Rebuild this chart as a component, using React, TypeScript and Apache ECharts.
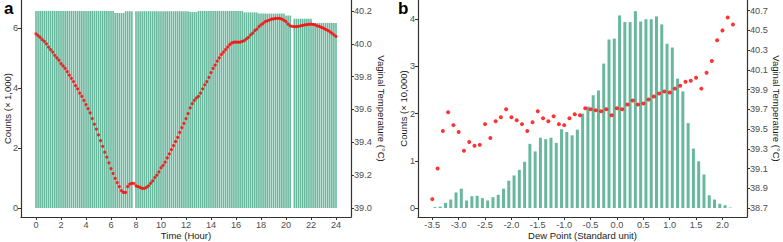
import React, { useEffect, useRef } from "react";
import * as echarts from "echarts";

// ---------- Panel a: 10-minute slots over 24 h ----------
// counts (x 1,000) per 10-min slot, null = missing slot
const countsA: (number | null)[] = [
  6.57, 6.57, 6.57, 6.57, 6.57, 6.57, 6.57, 6.57, 6.57, 6.57, 6.57, 6.57,
  6.57, 6.57, 6.57, 6.57, 6.57, 6.57, 6.57, 6.57, 6.57, 6.57, 6.57, 6.57,
  6.57, 6.57, 6.57, 6.57, 6.57, 6.57, 6.57, 6.57, 6.57, 6.57, 6.57, 6.57,
  6.57, 6.57, 6.5, 6.5, 6.5, 6.5, 6.5, 6.56, 6.56, 6.56, 6.56, null,
  6.56, 6.56, 6.56, 6.56, 6.56, 6.56, 6.56, 6.56, 6.56, 6.56, 6.56, 6.56,
  6.56, 6.56, 6.56, 6.56, 6.56, 6.56, 6.56, 6.56, 6.56, 6.56, 6.56, 6.56,
  6.56, 6.56, 6.53, 6.53, 6.53, 6.53, 6.57, 6.57, 6.57, 6.57, 6.57, 6.57,
  6.57, 6.57, 6.57, 6.57, 6.57, 6.57, 6.57, 6.57, 6.57, 6.57, 6.57, 6.57,
  6.57, 6.57, 6.57, 6.57, 6.52, 6.52, 6.52, 6.52, 6.52, 6.52, 6.52, 6.48,
  6.48, 6.48, 6.48, 6.48, 6.48, 6.48, 6.48, 6.48, 6.48, 6.48, 6.48, 6.48,
  6.42, 6.42, 6.42, null, 6.31, 6.31, 6.31, 6.31, 6.31, 6.31, 6.31, 6.31,
  6.31, 6.17, 6.17, 6.17, 6.17, 6.17, 6.17, 6.17, 6.17, 6.17, 6.17, 6.17,
  6.17,
];
// vaginal temperature (°C) per 10-min slot
const tempA: number[] = [
  40.06, 40.05, 40.04, 40.025, 40.015, 40.0, 39.98, 39.965, 39.95, 39.93, 39.915, 39.9,
  39.88, 39.865, 39.85, 39.83, 39.81, 39.79, 39.77, 39.745, 39.725, 39.7, 39.68, 39.655,
  39.63, 39.605, 39.58, 39.545, 39.51, 39.48, 39.445, 39.41, 39.375, 39.34, 39.31, 39.275,
  39.24, 39.21, 39.18, 39.155, 39.13, 39.105, 39.095, 39.095, 39.13, 39.145, 39.15, 39.15,
  39.135, 39.13, 39.125, 39.12, 39.12, 39.125, 39.135, 39.15, 39.165, 39.185, 39.2, 39.22,
  39.245, 39.26, 39.28, 39.305, 39.33, 39.355, 39.38, 39.405, 39.43, 39.46, 39.49, 39.515,
  39.545, 39.575, 39.61, 39.635, 39.655, 39.67, 39.68, 39.7, 39.725, 39.75, 39.77, 39.795,
  39.825, 39.85, 39.87, 39.895, 39.915, 39.935, 39.95, 39.965, 39.98, 39.995, 40.005, 40.01,
  40.01, 40.01, 40.01, 40.015, 40.02, 40.03, 40.04, 40.055, 40.065, 40.08, 40.09, 40.105,
  40.115, 40.125, 40.135, 40.14, 40.145, 40.15, 40.152, 40.155, 40.155, 40.155, 40.15, 40.145,
  40.135, 40.12, 40.11, 40.107, 40.105, 40.105, 40.107, 40.11, 40.112, 40.115, 40.117, 40.118,
  40.12, 40.118, 40.115, 40.11, 40.107, 40.1, 40.095, 40.088, 40.082, 40.075, 40.065, 40.055,
  40.045,
];
const hourTicks = [0, 2, 4, 6, 8, 10, 12, 14, 16, 18, 20, 22, 24];
const countATicks = [0, 2, 4, 6];
const tempATicks = [39.0, 39.2, 39.4, 39.6, 39.8, 40.0, 40.2];

// ---------- Panel b: dew point bins ----------
const dewBarX = [
  -3.45, -3.35, -3.25, -3.15, -3.05, -2.95, -2.85, -2.75, -2.65, -2.55, -2.45, -2.35,
  -2.25, -2.15, -2.05, -1.95, -1.85, -1.75, -1.65, -1.55, -1.45, -1.35, -1.25, -1.15,
  -1.05, -0.95, -0.85, -0.75, -0.65, -0.55, -0.45, -0.35, -0.25, -0.15, -0.05, 0.05,
  0.15, 0.25, 0.35, 0.45, 0.55, 0.65, 0.75, 0.85, 0.95, 1.05, 1.15, 1.25,
  1.35, 1.45, 1.55, 1.65, 1.75, 1.85, 1.95, 2.05, 2.15,
];
// counts (x 10,000)
const dewCounts = [
  0.02, 0.03, 0.11, 0.18, 0.33, 0.41, 0.16, 0.25, 0.26, 0.21, 0.16, 0.23,
  0.28, 0.41, 0.58, 0.69, 0.81, 0.98, 1.36, 1.2, 1.49, 1.46, 1.49, 1.38,
  1.67, 1.61, 1.54, 1.66, 2.0, 2.15, 2.39, 2.49, 3.06, 3.57, 3.59, 4.08,
  3.94, 3.94, 4.17, 3.95, 4.0, 4.0, 4.06, 3.89, 3.48, 3.4, 2.74, 2.47,
  1.8, 1.26, 0.99, 0.71, 0.27, 0.18, 0.09, 0.06, 0.01,
];
const dewPointX = [
  -3.5, -3.4, -3.3, -3.2, -3.1, -3.0, -2.9, -2.8, -2.7, -2.6, -2.5, -2.4,
  -2.3, -2.2, -2.1, -2.0, -1.9, -1.8, -1.7, -1.6, -1.5, -1.4, -1.3, -1.2,
  -1.1, -1.0, -0.9, -0.8, -0.7, -0.6, -0.5, -0.4, -0.3, -0.2, -0.1, 0.0,
  0.1, 0.2, 0.3, 0.4, 0.5, 0.6, 0.7, 0.8, 0.9, 1.0, 1.1, 1.2,
  1.3, 1.4, 1.5, 1.6, 1.7, 1.8, 1.9, 2.0, 2.1, 2.2,
];
const dewTemps = [
  38.79, 39.1, 39.48, 39.67, 39.54, 39.47, 39.28, 39.37, 39.33, 39.34, 39.55, 39.41,
  39.58, 39.62, 39.7, 39.62, 39.59, 39.55, 39.48, 39.57, 39.68, 39.61, 39.58, 39.63,
  39.55, 39.54, 39.61, 39.65, 39.64, 39.71, 39.7, 39.69, 39.68, 39.7, 39.64, 39.71,
  39.7, 39.75, 39.79, 39.75, 39.76, 39.8, 39.83, 39.86, 39.88, 39.87, 39.91, 39.94,
  39.98, 39.99, 40.02, 39.91, 40.07, 40.19, 40.4, 40.5, 40.63, 40.56,
];
const dewTicks = [-3.5, -3.0, -2.5, -2.0, -1.5, -1.0, -0.5, 0.0, 0.5, 1.0, 1.5, 2.0];
const countBTicks = [0, 1, 2, 3, 4];
const tempBTicks = [38.7, 38.9, 39.1, 39.3, 39.5, 39.7, 39.9, 40.1, 40.3, 40.5, 40.7];

const FONT = '"Liberation Sans", Arial, Helvetica, sans-serif';
const BAR = "#69b89e";
const DOT = "#ff0000";
const AXIS = "#333333";
const TICK_TXT = "#4d4d4d";
const TITLE_TXT = "#1a1a1a";

function axisCommon(ticks: number[], fmt?: (v: number) => string) {
  return {
    type: "value" as const,
    splitLine: { show: false },
    axisLine: { show: true, onZero: false, lineStyle: { color: AXIS, width: 1.2 } },
    axisTick: { show: true, length: 3, customValues: ticks, lineStyle: { color: AXIS, width: 1 } },
    axisLabel: {
      customValues: ticks,
      fontFamily: FONT,
      fontSize: 9.2,
      color: TICK_TXT,
      margin: 3,
      formatter: fmt ? (v: number) => fmt(v) : undefined,
    },
    nameLocation: "middle" as const,
    nameMoveOverlap: false,
    nameTextStyle: { fontFamily: FONT, fontSize: 9.5, lineHeight: 10, color: TITLE_TXT },
  };
}

export default function App() {
  const ref = useRef<HTMLDivElement>(null);
  useEffect(() => {
    if (!ref.current) return;
    const chart = echarts.init(ref.current, undefined, { renderer: "svg" });
    const slots = countsA.map((_, i) => i / 6);
    const barDataA = slots
      .map((h, i) => [h, countsA[i]])
      .filter((d) => d[1] !== null);
    const dotDataA = slots.map((h, i) => [h, tempA[i]]);
    const barDataB = dewBarX.map((x, i) => [x, dewCounts[i]]);
    const dotDataB = dewPointX.map((x, i) => [x, dewTemps[i]]);
    const f1 = (v: number) => v.toFixed(1);

    chart.setOption({
      animation: false,
      backgroundColor: "#ffffff",
      textStyle: { fontFamily: FONT },
      grid: [
        { left: 21, top: 0, width: 330, height: 217, containLabel: false, outerBoundsMode: "none" },
        { left: 418, top: 0, width: 329, height: 217, containLabel: false, outerBoundsMode: "none" },
      ],
      xAxis: [
        {
          ...axisCommon(hourTicks),
          gridIndex: 0,
          min: -1.2,
          max: 25.2,
          name: "Time (Hour)",
          nameGap: 13,
        },
        {
          ...axisCommon(dewTicks, f1),
          gridIndex: 1,
          min: -3.771,
          max: 2.466,
          name: "Dew Point (Standard unit)",
          nameGap: 13,
        },
      ],
      yAxis: [
        {
          ...axisCommon(countATicks),
          gridIndex: 0,
          position: "left",
          min: -0.3,
          max: 6.933,
          name: "Counts (× 1,000)",
          nameGap: 9,
        },
        {
          ...axisCommon(tempATicks, f1),
          gridIndex: 0,
          position: "right",
          min: 38.945,
          max: 40.267,
          name: "Vaginal Temperature (°C)",
          nameGap: 25,
          nameRotate: -90,
        },
        {
          ...axisCommon(countBTicks),
          gridIndex: 1,
          position: "left",
          min: -0.19,
          max: 4.407,
          name: "Counts (× 10,000)",
          nameGap: 9.5,
        },
        {
          ...axisCommon(tempBTicks, f1),
          gridIndex: 1,
          position: "right",
          min: 38.609,
          max: 40.808,
          name: "Vaginal Temperature (°C)",
          nameGap: 24,
          nameRotate: -90,
        },
      ],
      series: [
        {
          type: "bar",
          xAxisIndex: 0,
          yAxisIndex: 0,
          data: barDataA,
          barWidth: 1.6,
          itemStyle: { color: BAR },
        },
        {
          type: "scatter",
          xAxisIndex: 0,
          yAxisIndex: 1,
          data: dotDataA,
          symbol: "circle",
          symbolSize: 3.2,
          itemStyle: { color: DOT },
        },
        {
          type: "bar",
          xAxisIndex: 1,
          yAxisIndex: 2,
          data: barDataB,
          barWidth: 3,
          itemStyle: { color: BAR },
        },
        {
          type: "scatter",
          xAxisIndex: 1,
          yAxisIndex: 3,
          data: dotDataB,
          symbol: "circle",
          symbolSize: 4,
          itemStyle: { color: DOT },
        },
      ],
      graphic: [
        {
          type: "text",
          left: 4,
          top: 0,
          style: { text: "a", font: `bold 17px ${FONT}`, fill: "#000" },
        },
        {
          type: "text",
          left: 398,
          top: 0,
          style: { text: "b", font: `bold 17px ${FONT}`, fill: "#000" },
        },
      ],
    });
    return () => chart.dispose();
  }, []);
  return (
    <div
      ref={ref}
      style={{ position: "absolute", left: 0, top: 0, width: 783, height: 242 }}
    />
  );
}
